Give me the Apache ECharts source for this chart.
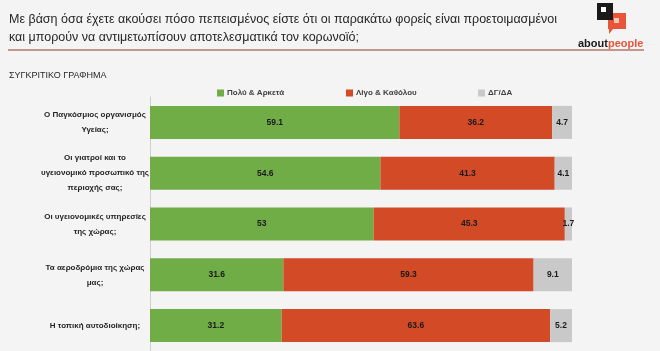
<!DOCTYPE html>
<html>
<head>
<meta charset="UTF-8">
<title>Συγκριτικό γράφημα</title>
<script src="https://cdn.jsdelivr.net/npm/echarts@6/dist/echarts.min.js"></script>
<style>
	html, body { margin: 0; padding: 0; background: #f4f4f4; }
	#main { width: 660px; height: 351px; }
</style>
</head>
<body>
<div id="main"></div>
<script type="text/javascript">
	// κατηγορίες (φορείς)
	var categories = [
		'Ο Παγκόσμιος οργανισμός\nΥγείας;',
		'Οι γιατροί και το\nυγειονομικό προσωπικό της\nπεριοχής σας;',
		'Οι υγειονομικές υπηρεσίες\nτης χώρας;',
		'Τα αεροδρόμια της χώρας\nμας;',
		'Η τοπική αυτοδιοίκηση;'
	];
	var seriesNames = ['Πολύ & Αρκετά', 'Λίγο & Καθόλου', 'ΔΓ/ΔΑ'];
	var poluArketa = [59.1, 54.6, 53, 31.6, 31.2];
	var ligoKatholou = [36.2, 41.3, 45.3, 59.3, 63.6];
	var dgda = [4.7, 4.1, 1.7, 9.1, 5.2];

	var colors = ['#70ad47', '#d34a26', '#c9c9c9'];
	var font = '"Liberation Sans", Arial, sans-serif';

	var myChart = echarts.init(document.getElementById('main'));

	function makeSeries(name, data, color) {
		return {
			name: name,
			type: 'bar',
			stack: 'total',
			barWidth: '65%',
			data: data,
			itemStyle: { color: color },
			label: {
				show: true,
				position: 'inside',
				color: '#1a1a1a',
				fontWeight: 'bold',
				fontSize: 8.5,
				fontFamily: font
			}
		};
	}

	function makeLegend(name, left) {
		return {
			data: [name],
			left: left,
			top: 89,
			padding: 0,
			icon: 'rect',
			itemWidth: 7,
			itemHeight: 7,
			itemGap: 4,
			textStyle: { fontSize: 8, fontWeight: 'bold', color: '#404040', fontFamily: font, padding: [0, 0, 0, -2] }
		};
	}

	myChart.setOption({
		backgroundColor: '#f4f4f4',
		animation: false,
		color: colors,
		title: [{
			text: 'Με βάση όσα έχετε ακούσει πόσο πεπεισμένος είστε ότι οι παρακάτω φορείς είναι προετοιμασμένοι\nκαι μπορούν να αντιμετωπίσουν αποτελεσματικά τον κορωνοϊό;',
			left: 9,
			top: 11,
			padding: 0,
			textStyle: { fontSize: 12.5, fontWeight: 'normal', color: '#262626', lineHeight: 18, fontFamily: font }
		}, {
			text: 'ΣΥΓΚΡΙΤΙΚΟ ΓΡΑΦΗΜΑ',
			left: 9,
			top: 71,
			padding: 0,
			textStyle: { fontSize: 9, fontWeight: 'normal', color: '#262626', fontFamily: font }
		}],
		legend: [
			makeLegend(seriesNames[0], 217),
			makeLegend(seriesNames[1], 346),
			makeLegend(seriesNames[2], 478)
		],
		graphic: [
			// διαχωριστική γραμμή
			{ type: 'line', shape: { x1: 8, y1: 50, x2: 644, y2: 50 }, style: { stroke: '#b07a68', lineWidth: 1.5 } },
			// λογότυπο
			{ type: 'rect', shape: { x: 597, y: 3, width: 16, height: 17 }, style: { fill: '#1a1a1a' } },
			{ type: 'rect', shape: { x: 601, y: 7, width: 5, height: 5 }, style: { fill: '#ffffff' } },
			{ type: 'polygon', shape: { points: [[608, 13], [626, 13], [626, 29], [613, 29], [609, 34], [609, 29], [608, 29]] }, style: { fill: '#e8553a' } },
			{ type: 'rect', shape: { x: 608, y: 13, width: 5, height: 7 }, style: { fill: '#1a1a1a' } },
			{ type: 'rect', shape: { x: 614, y: 18, width: 5, height: 5 }, style: { fill: '#f6c7b8' } },
			{
				type: 'text', left: 578, top: 38,
				style: {
					text: '{a|about}{b|people}',
					rich: {
						a: { fontSize: 11, fontWeight: 'bold', fill: '#1a1a1a', fontFamily: font },
						b: { fontSize: 11, fontWeight: 'bold', fill: '#e8553a', fontFamily: font }
					}
				}
			}
		],
		grid: { left: 150, right: 88, top: 97, bottom: 0, containLabel: false },
		xAxis: {
			type: 'value',
			min: 0,
			max: 100,
			show: false
		},
		yAxis: {
			type: 'category',
			inverse: true,
			data: categories,
			axisLine: { show: true, lineStyle: { color: '#d0d0d0' } },
			axisTick: { show: false },
			axisLabel: {
				margin: 55,
				align: 'center',
				fontSize: 8,
				lineHeight: 15,
				fontWeight: 'bold',
				color: '#262626',
				fontFamily: font
			}
		},
		series: [
			makeSeries(seriesNames[0], poluArketa, colors[0]),
			makeSeries(seriesNames[1], ligoKatholou, colors[1]),
			makeSeries(seriesNames[2], dgda, colors[2])
		]
	});
</script>
</body>
</html>
